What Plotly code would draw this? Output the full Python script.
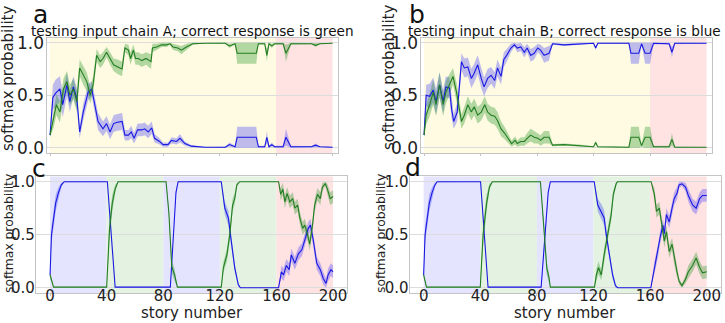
import plotly.graph_objects as go

# ---------------- data ----------------
A_BLUE_X = [0, 2, 4, 7, 9, 12, 14, 16.5, 19, 21, 23.5, 27, 29.5, 32, 34, 37.5, 40, 42.5, 45, 47, 51, 53, 55.5, 57.5, 59.5, 62, 65, 67, 69.5, 72, 74, 77.5, 80, 83.5, 86, 89.5, 92, 95.5, 100, 110, 124, 127, 131, 132.5, 146, 147.5, 152, 153.5, 155, 157, 159, 165, 167, 170.5, 185, 188, 191, 200]
A_BLUE_Y = [0.12, 0.48, 0.52, 0.56, 0.41, 0.60, 0.44, 0.58, 0.47, 0.15, 0.34, 0.53, 0.56, 0.37, 0.25, 0.18, 0.23, 0.15, 0.23, 0.24, 0.25, 0.12, 0.12, 0.15, 0.09, 0.17, 0.17, 0.18, 0.15, 0.19, 0.09, 0.06, 0.03, 0.03, 0.07, 0.06, 0.09, 0.04, 0.015, 0.005, 0.005, 0.03, 0.01, 0.10, 0.10, 0.01, 0.01, 0.10, 0.01, 0.03, 0.01, 0.01, 0.10, 0.01, 0.01, 0.025, 0.01, 0.005]
A_BLUE_S = [0.02, 0.12, 0.13, 0.12, 0.12, 0.11, 0.10, 0.10, 0.10, 0.06, 0.08, 0.08, 0.07, 0.08, 0.08, 0.07, 0.07, 0.07, 0.08, 0.08, 0.08, 0.05, 0.05, 0.06, 0.05, 0.06, 0.06, 0.06, 0.06, 0.06, 0.04, 0.03, 0.02, 0.02, 0.03, 0.03, 0.04, 0.02, 0.01, 0.003, 0.005, 0.02, 0.01, 0.10, 0.10, 0.01, 0.01, 0.06, 0.01, 0.02, 0.01, 0.01, 0.08, 0.01, 0.005, 0.015, 0.005, 0.003]

A_GREEN_X = [0, 2.5, 4.5, 7, 9.5, 12, 14, 16.5, 19, 21, 23.5, 26, 28.5, 30.5, 33, 35.5, 37.5, 40, 42.5, 45, 48, 51, 53, 55.5, 57, 59, 60.5, 62.5, 65, 68, 71.5, 72.5, 75.5, 79, 82.5, 85, 87, 90.5, 93, 96.5, 101, 110, 124, 127, 131, 132.5, 146, 147.5, 152, 153.5, 155, 157, 159, 165, 167, 170.5, 185, 188, 191, 200]
A_GREEN_Y = [0.12, 0.28, 0.41, 0.34, 0.56, 0.63, 0.50, 0.56, 0.44, 0.76, 0.69, 0.63, 0.50, 0.60, 0.88, 0.82, 0.85, 0.91, 0.85, 0.79, 0.77, 0.75, 0.95, 0.93, 0.85, 0.93, 0.85, 0.85, 0.83, 0.85, 0.82, 0.95, 0.96, 0.98, 0.98, 0.99, 0.96, 0.95, 0.93, 0.96, 0.99, 0.995, 0.995, 0.97, 0.99, 0.90, 0.90, 0.99, 0.99, 0.88, 0.99, 0.97, 0.99, 0.99, 0.90, 0.99, 0.99, 0.975, 0.99, 0.995]
A_GREEN_S = [0.02, 0.09, 0.10, 0.10, 0.10, 0.10, 0.10, 0.10, 0.10, 0.08, 0.09, 0.09, 0.08, 0.08, 0.06, 0.06, 0.06, 0.05, 0.06, 0.06, 0.07, 0.07, 0.04, 0.05, 0.06, 0.05, 0.06, 0.06, 0.06, 0.06, 0.07, 0.04, 0.03, 0.02, 0.02, 0.01, 0.03, 0.03, 0.04, 0.03, 0.01, 0.003, 0.005, 0.02, 0.01, 0.10, 0.10, 0.01, 0.01, 0.06, 0.01, 0.02, 0.01, 0.01, 0.08, 0.01, 0.005, 0.015, 0.005, 0.003]

B_BLUE_X = [0, 1.5, 4, 6.5, 8.5, 11, 13.5, 15.5, 18, 19.5, 21, 23.5, 26.5, 28.5, 31, 33.5, 35.5, 38, 40.5, 42.5, 45, 47.5, 50, 52, 54.5, 56.5, 58.5, 61.5, 64, 66, 68.5, 71, 73, 75.5, 78, 80.5, 82.5, 85, 88.5, 91, 99, 110, 120, 121.5, 123, 145, 146.5, 152, 154, 156.5, 160, 162.5, 173.5, 175.5, 177.5, 200]
B_BLUE_Y = [0.12, 0.50, 0.49, 0.55, 0.44, 0.60, 0.44, 0.58, 0.57, 0.37, 0.25, 0.34, 0.82, 0.76, 0.77, 0.66, 0.71, 0.79, 0.66, 0.58, 0.66, 0.69, 0.64, 0.76, 0.68, 0.84, 0.88, 0.95, 0.98, 0.95, 0.96, 0.91, 0.95, 0.88, 0.90, 0.95, 0.93, 0.88, 0.90, 0.99, 0.98, 0.99, 0.995, 0.95, 0.995, 0.995, 0.90, 0.90, 0.99, 0.90, 0.90, 0.995, 0.99, 0.91, 0.995, 0.995]
B_BLUE_S = [0.02, 0.10, 0.12, 0.12, 0.12, 0.12, 0.11, 0.10, 0.10, 0.09, 0.07, 0.09, 0.08, 0.09, 0.09, 0.09, 0.09, 0.09, 0.09, 0.09, 0.09, 0.08, 0.08, 0.08, 0.08, 0.07, 0.06, 0.04, 0.02, 0.04, 0.04, 0.05, 0.04, 0.06, 0.06, 0.04, 0.05, 0.07, 0.07, 0.01, 0.01, 0.01, 0.005, 0.02, 0.005, 0.005, 0.10, 0.10, 0.01, 0.10, 0.10, 0.01, 0.01, 0.05, 0.01, 0.003]

B_GREEN_X = [0, 1.5, 4, 6.5, 8.5, 11, 13.5, 15.5, 18, 20.5, 23, 26.5, 28.5, 31, 33.5, 35.5, 38, 40.5, 43, 45, 47.5, 50, 52, 54.5, 57, 59, 62, 64.5, 66, 68.5, 71, 73, 75.5, 78, 80.5, 82.5, 85, 88.5, 91, 99, 110, 120, 121.5, 123, 145, 146.5, 152, 154, 156.5, 160, 162.5, 173.5, 175.5, 177.5, 200]
B_GREEN_Y = [0.12, 0.31, 0.41, 0.53, 0.41, 0.60, 0.41, 0.53, 0.60, 0.68, 0.53, 0.25, 0.31, 0.41, 0.34, 0.39, 0.31, 0.34, 0.41, 0.34, 0.31, 0.30, 0.26, 0.18, 0.14, 0.10, 0.04, 0.07, 0.04, 0.06, 0.06, 0.09, 0.12, 0.10, 0.09, 0.07, 0.10, 0.10, 0.025, 0.03, 0.02, 0.01, 0.05, 0.01, 0.005, 0.10, 0.10, 0.02, 0.10, 0.10, 0.01, 0.01, 0.08, 0.005, 0.005]
B_GREEN_S = [0.02, 0.09, 0.11, 0.12, 0.11, 0.12, 0.11, 0.11, 0.10, 0.08, 0.09, 0.07, 0.08, 0.08, 0.08, 0.08, 0.08, 0.08, 0.08, 0.08, 0.08, 0.08, 0.08, 0.07, 0.06, 0.05, 0.03, 0.04, 0.03, 0.04, 0.04, 0.05, 0.06, 0.06, 0.05, 0.05, 0.06, 0.06, 0.01, 0.01, 0.01, 0.005, 0.02, 0.005, 0.005, 0.10, 0.10, 0.01, 0.10, 0.10, 0.01, 0.01, 0.06, 0.005, 0.003]

C_BLUE_X = [0, 1, 4, 6, 8, 10, 40.5, 46, 85, 87, 89, 90.5, 121, 123.5, 125, 126, 127.5, 130.5, 133, 134.5, 161.5, 163.5, 165, 167, 169, 170.5, 173, 175.5, 178, 180, 182.5, 184, 186, 188.5, 191, 193, 195, 196.5, 198.5, 200]
C_BLUE_Y = [0.12, 0.50, 0.80, 0.90, 0.97, 1.0, 1.0, 0.005, 0.005, 0.5, 0.9, 1.0, 1.0, 0.75, 0.69, 0.66, 0.50, 0.19, 0.03, 0.0, 0.0, 0.15, 0.12, 0.21, 0.17, 0.31, 0.23, 0.32, 0.36, 0.44, 0.56, 0.59, 0.45, 0.23, 0.17, 0.09, 0.04, 0.12, 0.17, 0.15]
C_BLUE_S = [0.03, 0.08, 0.08, 0.05, 0.02, 0.005, 0.003, 0.003, 0.003, 0.03, 0.02, 0.005, 0.005, 0.06, 0.07, 0.07, 0.06, 0.04, 0.02, 0.003, 0.003, 0.06, 0.06, 0.06, 0.06, 0.06, 0.06, 0.06, 0.06, 0.06, 0.06, 0.06, 0.06, 0.06, 0.06, 0.06, 0.05, 0.06, 0.06, 0.06]

C_GREEN_X = [0, 2.5, 40, 42, 44, 46, 48, 82, 84, 86, 88, 90, 121, 122.5, 125, 127, 129, 130.5, 132, 134, 161.5, 163, 164.5, 166, 167.5, 169.5, 171.5, 173, 175, 176.5, 178.5, 180, 182, 183.5, 185.5, 187, 189, 191, 192.5, 194.5, 196, 198, 200]
C_GREEN_Y = [0.12, 0.005, 0.005, 0.55, 0.80, 0.93, 1.0, 1.0, 0.70, 0.20, 0.12, 0.005, 0.005, 0.19, 0.31, 0.50, 0.78, 0.84, 0.97, 1.0, 1.0, 0.88, 0.93, 0.81, 0.89, 0.81, 0.84, 0.75, 0.78, 0.66, 0.56, 0.59, 0.50, 0.41, 0.59, 0.78, 0.88, 0.84, 0.95, 0.98, 0.93, 0.84, 0.86]
C_GREEN_S = [0.03, 0.003, 0.003, 0.10, 0.08, 0.04, 0.005, 0.005, 0.04, 0.06, 0.06, 0.003, 0.003, 0.05, 0.06, 0.06, 0.06, 0.05, 0.02, 0.003, 0.003, 0.06, 0.06, 0.06, 0.06, 0.06, 0.06, 0.06, 0.06, 0.06, 0.06, 0.06, 0.06, 0.06, 0.06, 0.06, 0.06, 0.06, 0.04, 0.02, 0.05, 0.06, 0.06]

D_BLUE_X = [0, 1, 4, 6, 8, 9.5, 40.2, 45.5, 83, 86, 88, 89.5, 120.5, 123, 125.5, 127.5, 129, 131, 133.5, 135.5, 137, 160.5, 163, 165.5, 167, 169, 170, 171.5, 173.5, 175.5, 177, 179, 180.5, 182.5, 185, 187, 190, 192.5, 195, 197, 200]
D_BLUE_Y = [0.12, 0.50, 0.80, 0.90, 0.97, 1.0, 1.0, 0.005, 0.005, 0.5, 0.9, 1.0, 1.0, 0.78, 0.72, 0.66, 0.50, 0.31, 0.12, 0.02, 0.0, 0.0, 0.19, 0.34, 0.47, 0.59, 0.51, 0.69, 0.62, 0.75, 0.84, 0.89, 0.97, 0.98, 0.95, 0.87, 0.78, 0.75, 0.84, 0.87, 0.87]
D_BLUE_S = [0.03, 0.08, 0.08, 0.05, 0.02, 0.005, 0.003, 0.003, 0.003, 0.03, 0.02, 0.005, 0.005, 0.06, 0.07, 0.07, 0.06, 0.05, 0.04, 0.02, 0.003, 0.003, 0.06, 0.06, 0.06, 0.06, 0.06, 0.06, 0.06, 0.06, 0.06, 0.06, 0.03, 0.02, 0.04, 0.06, 0.06, 0.06, 0.06, 0.06, 0.06]

D_GREEN_X = [0, 2, 40, 42, 44.5, 46.5, 48.5, 82.5, 85, 87, 88.5, 89.5, 120.7, 122, 123.5, 125.5, 127.5, 130, 132.5, 134, 136, 137, 160.7, 163, 164.5, 166.5, 168.5, 170, 171.5, 173.5, 175.5, 177, 179, 180.5, 182.5, 185, 187, 190, 192.5, 195, 197, 200]
D_GREEN_Y = [0.12, 0.005, 0.005, 0.50, 0.80, 0.95, 1.0, 1.0, 0.55, 0.18, 0.10, 0.005, 0.005, 0.12, 0.19, 0.12, 0.31, 0.50, 0.69, 0.88, 0.98, 1.0, 1.0, 0.88, 0.72, 0.75, 0.59, 0.44, 0.53, 0.34, 0.41, 0.28, 0.15, 0.06, 0.02, 0.08, 0.15, 0.21, 0.28, 0.19, 0.14, 0.15]
D_GREEN_S = [0.03, 0.003, 0.003, 0.10, 0.08, 0.03, 0.005, 0.005, 0.05, 0.06, 0.05, 0.003, 0.003, 0.05, 0.06, 0.05, 0.06, 0.06, 0.06, 0.04, 0.02, 0.003, 0.003, 0.06, 0.06, 0.06, 0.06, 0.06, 0.06, 0.06, 0.06, 0.06, 0.05, 0.03, 0.02, 0.04, 0.06, 0.06, 0.06, 0.06, 0.06, 0.06]

TOP_SPAN_START = [0, 160]
TOP_SPAN_END = [160, 200]
TOP_SPAN_COLOR = ["#fffbe3", "#ffe3e3"]
BOT_SPAN_START = [0, 40, 80, 120, 160]
BOT_SPAN_END = [40, 80, 120, 160, 200]
BOT_SPAN_COLOR = ["#e4e4fe", "#e3f2e1", "#e4e4fe", "#e3f2e1", "#ffe3e3"]

TITLES = ["testing input chain A; correct response is green",
          "testing input chain B; correct response is blue"]
LETTERS = ["a", "b", "c", "d"]
X_TICKS = [0, 40, 80, 120, 160, 200]
Y_TICKS = [0, 0.5, 1.0]
Y_TICK_TEXT = ["0.0", "0.5", "1.0"]

# ---------------- layout helpers ----------------
W, H = 725, 323
FONT = "DejaVu Sans"
BLUE_LINE = "rgb(25,25,225)"
GREEN_LINE = "rgb(35,125,35)"
BLUE_FILL = "rgba(40,40,255,0.30)"
GREEN_FILL = "rgba(20,140,20,0.32)"


def px_x(p):
    return p / W


def px_y(p):
    return 1 - p / H


fig = go.Figure()

panels = [
    ("", (A_BLUE_X, A_BLUE_Y, A_BLUE_S), (A_GREEN_X, A_GREEN_Y, A_GREEN_S), (46.5, 337.5), (37.5, 153.0), [-2.5, 203.5], True),
    ("2", (B_BLUE_X, B_BLUE_Y, B_BLUE_S), (B_GREEN_X, B_GREEN_Y, B_GREEN_S), (420.5, 711.5), (37.5, 153.0), [-2.5, 203.5], True),
    ("3", (C_BLUE_X, C_BLUE_Y, C_BLUE_S), (C_GREEN_X, C_GREEN_Y, C_GREEN_S), (35.9, 347.2), (176.4, 293.0), [-10, 210], False),
    ("4", (D_BLUE_X, D_BLUE_Y, D_BLUE_S), (D_GREEN_X, D_GREEN_Y, D_GREEN_S), (409.5, 720.9), (176.4, 293.0), [-10, 210], False),
]

layout_axes = {}
shapes = []
for suffix, blue, green, xd, yd, xr, top in panels:
    xa = "x" + suffix
    ya = "y" + suffix
    for (xs, ys, ss), fill in ((blue, BLUE_FILL), (green, GREEN_FILL)):
        lo = [max(0.0, v - s) for v, s in zip(ys, ss)]
        hi = [min(1.0, v + s) for v, s in zip(ys, ss)]
        fig.add_trace(go.Scatter(x=xs, y=lo, mode="lines", line=dict(width=0),
                                 xaxis=xa, yaxis=ya, showlegend=False, hoverinfo="skip"))
        fig.add_trace(go.Scatter(x=xs, y=hi, mode="lines", line=dict(width=0),
                                 fill="tonexty", fillcolor=fill,
                                 xaxis=xa, yaxis=ya, showlegend=False, hoverinfo="skip"))
    for (xs, ys, ss), col in ((blue, BLUE_LINE), (green, GREEN_LINE)):
        fig.add_trace(go.Scatter(x=xs, y=ys, mode="lines", line=dict(width=1.1, color=col),
                                 xaxis=xa, yaxis=ya, showlegend=False))

    tick_size = 17 if top else 15
    layout_axes["xaxis" + suffix] = dict(
        domain=[px_x(xd[0]), px_x(xd[1])], range=xr, anchor=ya, automargin=False,
        showgrid=False, zeroline=False, showline=True, mirror=True,
        linecolor="#c4c4c4", linewidth=1,
        tickvals=X_TICKS, ticks="outside", ticklen=2, tickcolor="#c4c4c4",
        ticklabelstandoff=-13,
        showticklabels=not top, tickfont=dict(family=FONT, size=15, color="#222"),
    )
    layout_axes["yaxis" + suffix] = dict(
        domain=[px_y(yd[1]), px_y(yd[0])], range=[-0.05, 1.05], anchor=xa, automargin=False,
        showgrid=True, gridcolor="#dcdcdc", gridwidth=1, zeroline=False,
        showline=True, mirror=True, linecolor="#c4c4c4", linewidth=1,
        tickvals=Y_TICKS, ticktext=Y_TICK_TEXT, ticks="",
        ticklabelstandoff=-2 if top else -3,
        tickfont=dict(family=FONT, size=tick_size, color="#222"),
    )
    starts, ends, cols = (TOP_SPAN_START, TOP_SPAN_END, TOP_SPAN_COLOR) if top else (BOT_SPAN_START, BOT_SPAN_END, BOT_SPAN_COLOR)
    for s0, s1, c in zip(starts, ends, cols):
        shapes.append(dict(type="rect", xref=xa, yref=ya + " domain", x0=s0, x1=s1, y0=0, y1=1,
                           fillcolor=c, line=dict(width=0), layer="below"))

annotations = []
for txt, cx in zip(TITLES, [192, 564.5]):
    annotations.append(dict(text=txt, x=px_x(cx), y=px_y(31), xref="paper", yref="paper",
                            xanchor="center", yanchor="middle", showarrow=False,
                            font=dict(family=FONT, size=13.6, color="#111")))
for letter, (lx, ly) in zip(LETTERS, [(40, 14), (417, 14), (39, 168), (413, 167)]):
    annotations.append(dict(text=letter, x=px_x(lx), y=px_y(ly), xref="paper", yref="paper",
                            xanchor="center", yanchor="middle", showarrow=False,
                            font=dict(family=FONT, size=25, color="#111")))
for lx, ly, fs in [(8, 79, 15), (389, 78, 15), (9, 234, 12.3), (381, 234, 12.3)]:
    annotations.append(dict(text="softmax probability", x=px_x(lx), y=px_y(ly), xref="paper", yref="paper",
                            xanchor="center", yanchor="middle", textangle=-90, showarrow=False,
                            font=dict(family=FONT, size=fs, color="#222")))
for lx in [191.5, 565]:
    annotations.append(dict(text="story number", x=px_x(lx), y=px_y(313), xref="paper", yref="paper",
                            xanchor="center", yanchor="middle", showarrow=False,
                            font=dict(family=FONT, size=15, color="#222")))

fig.update_layout(
    width=W, height=H, margin=dict(l=0, r=0, t=0, b=0),
    paper_bgcolor="white", plot_bgcolor="white",
    shapes=shapes, annotations=annotations, showlegend=False,
    **layout_axes,
)

fig.write_html("out.html", config={"displayModeBar": False},
               post_script="document.body.style.margin='0';document.body.style.padding='0';")
